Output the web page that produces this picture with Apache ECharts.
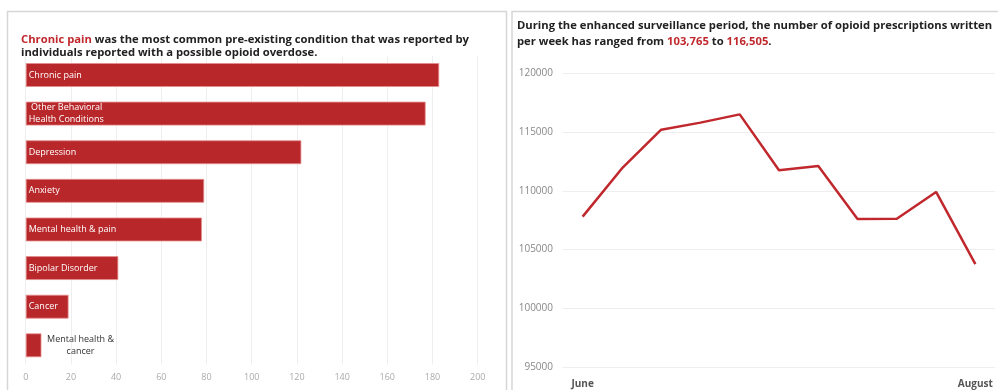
<!DOCTYPE html>
<html><head><meta charset="utf-8">
<script src="https://cdn.jsdelivr.net/npm/echarts@6/dist/echarts.min.js"></script>
<style>html,body{margin:0;padding:0;background:#fff;}#c{width:998px;height:390px;}</style>
</head><body><div id="c"></div>
<script>
const conditions = ['Chronic pain', ' Other Behavioral\nHealth Conditions', 'Depression', 'Anxiety', 'Mental health & pain', 'Bipolar Disorder', 'Cancer', 'Mental health &\ncancer'];
const conditionCounts = [183, 177, 122, 79, 78, 41, 19, 7];
const barTicks = [0, 20, 40, 60, 80, 100, 120, 140, 160, 180, 200];
const weeks = ['June', '', '', '', '', '', '', '', '', '', 'August'];
const prescriptions = [107800, 111900, 115200, 115800, 116505, 111750, 112100, 107600, 107620, 109900, 103765];
const lineTicks = [95000, 100000, 105000, 110000, 115000, 120000];

const RED = '#b8282b';
const FONT = '"Open Sans", "Noto Sans", sans-serif';

const chart = echarts.init(document.getElementById('c'), null, {renderer: 'canvas'});
const barData = conditionCounts.map((v, i) => {
  const d = {value: v};
  if (i === conditions.length - 1) {
    d.label = {position: 'right', distance: 0, align: 'center', offset: [39, 0], color: '#333'};
  }
  return d;
});

chart.setOption({
  animation: false,
  textStyle: {fontFamily: FONT},
  title: [
    {
      left: 21, top: 34, padding: 0,
      text: '{r|Chronic pain}{b| was the most common pre-existing condition that was reported by}\n{b|individuals reported with a possible opioid overdose.}',
      textStyle: {
        rich: {
          r: {color: '#c0282d', fontWeight: 'bold', fontSize: 11.25, fontFamily: FONT, lineHeight: 12.5},
          b: {color: '#222', fontWeight: 'bold', fontSize: 11.25, fontFamily: FONT, lineHeight: 12.5}
        }
      }
    },
    {
      left: 517, top: 18, padding: 0,
      text: '{b|During the enhanced surveillance period, the number of opioid prescriptions written}\n{b|per week has ranged from }{r|103,765}{b| to }{r|116,505}{b|.}',
      textStyle: {
        rich: {
          r: {color: '#c0282d', fontWeight: 'bold', fontSize: 11.25, fontFamily: FONT, lineHeight: 15.7},
          b: {color: '#222', fontWeight: 'bold', fontSize: 11.25, fontFamily: FONT, lineHeight: 15.7}
        }
      }
    }
  ],
  graphic: [
    {type: 'polyline', shape: {points: [[7.5, 400], [7.5, 11.5], [506.5, 11.5], [506.5, 400]]}, style: {stroke: '#d6d6d6', lineWidth: 1.5, fill: null}, silent: true},
    {type: 'polyline', shape: {points: [[512, 400], [512, 11.5], [1000, 11.5]]}, style: {stroke: '#d6d6d6', lineWidth: 1.5, fill: null}, silent: true}
  ],
  grid: [
    {left: 25.7, right: 520.3, top: 55.7, bottom: 25.4, containLabel: false},
    {left: 563, right: 3, top: 73.3, bottom: 23, containLabel: false}
  ],
  xAxis: [
    {
      type: 'value', gridIndex: 0, min: 0, max: 200, interval: 20,
      axisLine: {show: false}, axisTick: {show: false},
      splitLine: {lineStyle: {color: '#eeeeee', width: 1}},
      axisLabel: {color: '#aaa', fontSize: 9, margin: 8,
        formatter: v => barTicks.includes(v) ? String(v) : ''}
    },
    {
      type: 'category', gridIndex: 1, data: weeks, boundaryGap: true,
      axisLine: {show: false}, axisTick: {show: false},
      axisLabel: {color: '#555', fontSize: 10, fontWeight: 'bold', interval: 0, margin: 12}
    }
  ],
  yAxis: [
    {
      type: 'category', gridIndex: 0, data: conditions, inverse: true,
      axisLine: {show: false}, axisTick: {show: false}, axisLabel: {show: false},
      splitLine: {show: false}
    },
    {
      type: 'value', gridIndex: 1, min: 95000, max: 120000, interval: 5000,
      axisLine: {show: false}, axisTick: {show: false},
      splitLine: {lineStyle: {color: '#eeeeee', width: 1}},
      axisLabel: {color: '#888', fontSize: 10, margin: 10,
        formatter: v => lineTicks.includes(v) ? String(v) : ''}
    }
  ],
  series: [
    {
      type: 'bar', xAxisIndex: 0, yAxisIndex: 0, data: barData,
      barWidth: 24,
      itemStyle: {color: RED, borderColor: 'rgba(230,140,140,0.8)', borderWidth: 1},
      label: {
        show: true, position: 'insideLeft', distance: 3,
        formatter: p => conditions[p.dataIndex],
        color: '#fff', fontSize: 9, lineHeight: 12, fontFamily: FONT
      }
    },
    {
      type: 'line', xAxisIndex: 1, yAxisIndex: 1, data: prescriptions,
      showSymbol: false, symbol: 'none',
      lineStyle: {color: '#c0282d', width: 2.5}
    }
  ]
});
</script>
</body></html>
